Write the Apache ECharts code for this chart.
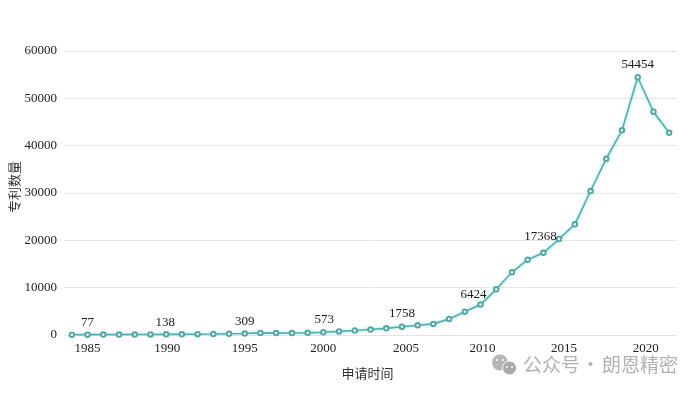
<!DOCTYPE html>
<html>
<head>
<meta charset="utf-8">
<style>html,body{margin:0;padding:0;background:#fff}#c{width:700px;height:393px}</style>
<script src="https://cdn.jsdelivr.net/npm/echarts@6/dist/echarts.min.js"></script>
</head>
<body>
<div id="c"></div>
<script>
const years = ['1984','1985','1986','1987','1988','1989','1990','1991','1992','1993','1994','1995','1996','1997','1998','1999','2000','2001','2002','2003','2004','2005','2006','2007','2008','2009','2010','2011','2012','2013','2014','2015','2016','2017','2018','2019','2020','2021','2022'];
const patents = [60,77,80,85,95,110,138,150,170,200,250,309,440,400,420,450,573,760,950,1150,1400,1758,2050,2350,3380,4930,6424,9650,13240,15900,17368,20280,23380,30420,37250,43240,54454,47170,42740];
const labelledYears = {'1985':[0,3],'1990':[-1,3],'1995':[0,3],'2000':[1,2],'2005':[0,2],'2010':[-7,5],'2014':[-3,-1],'2020':[0,2]};
const tickShift = {'1990':1,'2005':4,'2010':2,'2015':5,'2020':8};
const yTicks = [0,10000,20000,30000,40000,50000,60000];
const xAxisName = '申请时间', yAxisName = '专利数量';
const watermarkParts = ['公众号','·','朗恩精密'];
const serif = '"Liberation Serif","Noto Serif CJK SC",serif';
const cjk = '"Noto Sans CJK SC",sans-serif';

const tickRich = {};
Object.keys(tickShift).forEach(y=>{
  tickRich['y'+y] = {padding:[0,0,0,tickShift[y]*2],color:'#222',fontFamily:serif,fontSize:13};
});

const chart = echarts.init(document.getElementById('c'), null, {renderer:'canvas'});
chart.setOption({
  animation:false,
  backgroundColor:'#fff',
  grid:{left:64,right:23,top:51,bottom:58,outerBoundsMode:'none',containLabel:false},
  xAxis:{
    type:'category',data:years,boundaryGap:true,
    axisLine:{show:true,lineStyle:{color:'#e4e4e4',width:1}},
    axisTick:{show:false},
    axisLabel:{
      interval:(i,v)=>Number(v)%5===0,color:'#222',fontFamily:serif,fontSize:13,margin:7,hideOverlap:false,
      formatter:v=>tickShift[v]?`{y${v}|${v}}`:v,rich:tickRich
    },
    name:xAxisName,nameLocation:'middle',nameGap:32,
    nameTextStyle:{color:'#333',fontFamily:cjk,fontSize:13,padding:[0,6,0,0]}
  },
  yAxis:{
    type:'value',min:yTicks[0],max:yTicks[yTicks.length-1],interval:yTicks[1]-yTicks[0],
    axisLine:{show:false},axisTick:{show:false},
    splitLine:{lineStyle:{color:'#e6e6e6',width:1}},
    axisLabel:{color:'#222',fontFamily:serif,fontSize:13,margin:7,formatter:v=>String(v)},
    name:yAxisName,nameLocation:'middle',nameGap:43,nameRotate:90,nameMoveOverlap:false,
    nameTextStyle:{color:'#333',fontFamily:cjk,fontSize:13,padding:[0,0,0,12]}
  },
  series:[{
    type:'line',
    data:patents.map((v,i)=>{
      const off = labelledYears[years[i]];
      return off ? {value:v,label:{show:true,position:'top',offset:off,formatter:String(v),color:'#1a1a1a',fontFamily:serif,fontSize:13}} : {value:v};
    }),
    symbol:'emptyCircle',symbolSize:4.5,showSymbol:true,
    itemStyle:{color:'#55a7a6',borderWidth:1},
    lineStyle:{color:'#55aeae',width:1.6,shadowColor:'#86e6e6',shadowBlur:3},
    z:3
  }],
  graphic:[
    {type:'circle',shape:{cx:500,cy:362.5,r:8},style:{fill:'#b6b6b6'}},
    {type:'circle',shape:{cx:509.5,cy:368,r:7},style:{fill:'#aaaaaa',stroke:'#fff',lineWidth:1}},
    {type:'circle',shape:{cx:497,cy:360,r:1},style:{fill:'#fff'}},
    {type:'circle',shape:{cx:503,cy:360,r:1},style:{fill:'#fff'}},
    {type:'circle',shape:{cx:507,cy:367,r:0.9},style:{fill:'#fff'}},
    {type:'circle',shape:{cx:512,cy:367,r:0.9},style:{fill:'#fff'}},
    {type:'text',left:523,top:355,style:{text:watermarkParts[0],fill:'#b2b2b2',font:'19px "Noto Sans CJK SC",sans-serif'}},
    {type:'text',left:581,top:355,style:{text:watermarkParts[1],fill:'#b2b2b2',font:'19px "Noto Sans CJK SC",sans-serif'}},
    {type:'text',left:602,top:355,style:{text:watermarkParts[2],fill:'#b2b2b2',font:'19px "Noto Sans CJK SC",sans-serif'}}
  ]
});
</script>
</body>
</html>
